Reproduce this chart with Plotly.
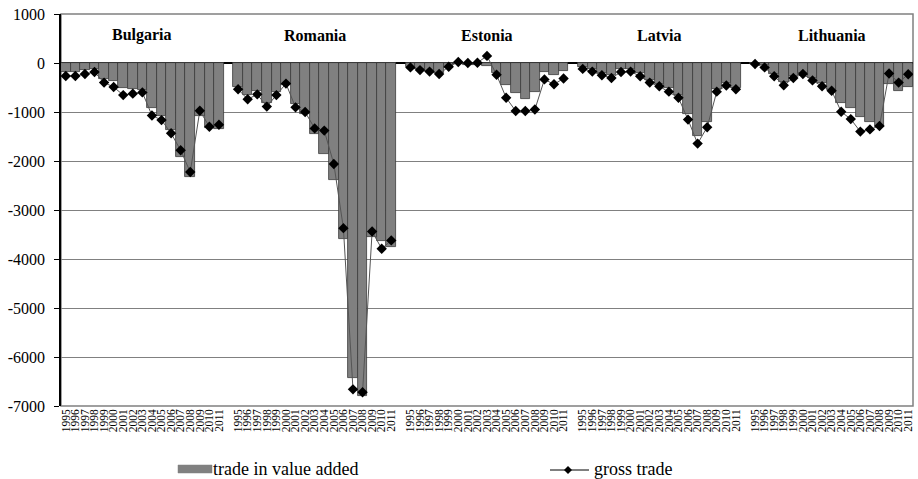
import plotly.graph_objects as go

YEARS = [str(y) for y in range(1995, 2012)]
COUNTRIES = ["Bulgaria", "Romania", "Estonia", "Latvia", "Lithuania"]

# trade in value added (bars), one list per country, 1995..2011
TIVA = {
    "Bulgaria": [-190, -175, -135, -115, -335, -370, -500, -525, -550, -925,
                 -1080, -1370, -1925, -2320, -1090, -1330, -1345],
    "Romania": [-480, -655, -565, -825, -585, -450, -835, -1040, -1450, -1855,
                -2385, -3600, -6435, -6800, -3550, -3640, -3760],
    "Estonia": [-90, -130, -155, -210, -110, -20, -40, -50, -70, -210,
                -450, -620, -730, -600, -190, -250, -165],
    "Latvia": [-75, -115, -195, -245, -115, -115, -195, -345, -435, -505,
               -655, -1040, -1490, -1210, -525, -415, -505],
    "Lithuania": [-20, -40, -230, -395, -265, -210, -315, -400, -550, -810,
                  -925, -1110, -1210, -1310, -435, -565, -495],
}

# gross trade (line with diamonds)
GROSS = {
    "Bulgaria": [-265, -265, -225, -185, -400, -490, -655, -625, -600, -1070,
                 -1165, -1435, -1780, -2225, -975, -1300, -1260],
    "Romania": [-535, -740, -640, -890, -655, -420, -905, -1000, -1335, -1380,
                -2060, -3370, -6660, -6720, -3440, -3790, -3620],
    "Estonia": [-90, -145, -175, -225, -75, 20, 0, 5, 145, -240,
                -710, -980, -980, -950, -335, -435, -315],
    "Latvia": [-120, -175, -250, -305, -185, -175, -270, -400, -475, -585,
               -710, -1155, -1645, -1310, -585, -460, -535],
    "Lithuania": [-20, -90, -270, -455, -305, -225, -355, -475, -565, -995,
                  -1145, -1400, -1355, -1285, -215, -400, -230],
}

Y_TICKS = list(range(-7000, 1001, 1000))
FONT = "Liberation Serif, Times New Roman, serif"
STEP = len(YEARS) + 1  # one empty slot between countries
BAR_COLOR = "#808080"

W, H = 918, 479
ML, MR, MT, MB = 61, 5, 14, 73
PW, PH = W - ML - MR, H - MT - MB

bar_x, bar_y, line_x, line_y, tick_vals, tick_text = [], [], [], [], [], []
for ci, c in enumerate(COUNTRIES):
    for yi, yr in enumerate(YEARS):
        pos = ci * STEP + yi
        bar_x.append(pos)
        bar_y.append(TIVA[c][yi])
        line_x.append(pos)
        line_y.append(GROSS[c][yi])
        tick_vals.append(pos)
        tick_text.append(yr)
    line_x.append(None)
    line_y.append(None)

fig = go.Figure()
fig.add_trace(go.Bar(
    x=bar_x, y=bar_y, name="trade in value added",
    marker=dict(color=BAR_COLOR, line=dict(color="#3a3a3a", width=0.8)),
))
fig.add_trace(go.Scatter(
    x=line_x, y=line_y, name="gross trade", mode="lines+markers",
    line=dict(color="#555555", width=1),
    marker=dict(symbol="diamond", size=8, color="black"),
    connectgaps=False,
))

for ci, c in enumerate(COUNTRIES):
    fig.add_annotation(
        x=ci * STEP + (len(YEARS) - 1) / 2, y=570, text="<b>%s</b>" % c,
        showarrow=False, font=dict(family=FONT, size=16, color="black"),
    )

fig.add_shape(type="rect", xref="paper", yref="paper", x0=0, x1=1, y0=0, y1=1,
              line=dict(color="#808080", width=1.5), layer="below")


# legend drawn by hand (wide swatch like the original); args are screen px
def px_x(p):
    return (p - ML) / float(PW)


def px_y(p):
    return (MT + PH - p) / float(PH)


LEG_Y = 469
fig.add_shape(type="rect", xref="paper", yref="paper",
              x0=px_x(178), x1=px_x(212), y0=px_y(LEG_Y + 4), y1=px_y(LEG_Y - 4),
              fillcolor=BAR_COLOR, line=dict(color="#808080", width=0.5))
fig.add_annotation(xref="paper", yref="paper", x=px_x(211), y=px_y(LEG_Y),
                   xanchor="left", yanchor="middle", showarrow=False,
                   text="trade in value added", font=dict(family=FONT, size=18))
fig.add_shape(type="line", xref="paper", yref="paper",
              x0=px_x(550), x1=px_x(589), y0=px_y(LEG_Y + 1), y1=px_y(LEG_Y + 1),
              line=dict(color="black", width=1))
fig.add_shape(type="path", xref="paper", yref="paper",
              path="M %f,%f L %f,%f L %f,%f L %f,%f Z" % (
                  px_x(568), px_y(LEG_Y - 3), px_x(572), px_y(LEG_Y + 1),
                  px_x(568), px_y(LEG_Y + 5), px_x(564), px_y(LEG_Y + 1)),
              fillcolor="black", line=dict(color="black", width=0))
fig.add_annotation(xref="paper", yref="paper", x=px_x(592), y=px_y(LEG_Y),
                   xanchor="left", yanchor="middle", showarrow=False,
                   text="gross trade", font=dict(family=FONT, size=18))

fig.update_layout(
    width=W, height=H,
    margin=dict(l=ML, r=MR, t=MT, b=MB),
    plot_bgcolor="white", paper_bgcolor="white",
    bargap=0,
    font=dict(family=FONT, color="black", size=13),
    showlegend=False,
)
fig.update_xaxes(
    range=[-0.5, len(COUNTRIES) * STEP - 1.5], automargin=False,
    tickmode="array", tickvals=tick_vals, ticktext=tick_text,
    tickangle=-90, tickfont=dict(family=FONT, size=11.5, color="black"),
    showgrid=False, showline=False, zeroline=False, ticks="",
)
fig.update_yaxes(
    range=[-7000, 1000], automargin=False,
    tickmode="array", tickvals=Y_TICKS, ticktext=[str(v) for v in Y_TICKS],
    showgrid=True, gridcolor="#808080", gridwidth=1,
    zeroline=True, zerolinecolor="black", zerolinewidth=1.5,
    showline=True, linecolor="black", linewidth=1.5,
    ticks="outside", ticklen=5, tickcolor="black", ticklabelstandoff=6,
    tickfont=dict(family=FONT, size=16, color="black"),
)

# drop the browser's default 8px body margin so the figure fills the window
fig.write_html("out.html", config={"displayModeBar": False},
               post_script="document.body.style.margin='0';"
                           "document.body.style.overflow='hidden';")
